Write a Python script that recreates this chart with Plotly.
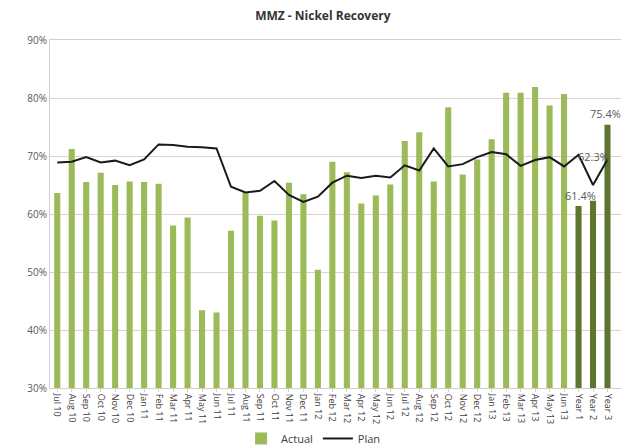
import plotly.graph_objects as go

categories = ["Jul 10","Aug 10","Sep 10","Oct 10","Nov 10","Dec 10","Jan 11","Feb 11","Mar 11","Apr 11",
              "May 11","Jun 11","Jul 11","Aug 11","Sep 11","Oct 11","Nov 11","Dec 11","Jan 12","Feb 12",
              "Mar 12","Apr 12","May 12","Jun 12","Jul 12","Aug 12","Sep 12","Oct 12","Nov 12","Dec 12",
              "Jan 13","Feb 13","Mar 13","Apr 13","May 13","Jun 13","Year 1","Year 2","Year 3"]
actual = [63.6, 71.2, 65.5, 67.1, 65.0, 65.6, 65.5, 65.2, 58.0, 59.4,
          43.4, 43.0, 57.1, 63.7, 59.7, 58.9, 65.4, 63.4, 50.4, 69.0,
          67.2, 61.8, 63.2, 65.1, 72.6, 74.1, 65.6, 78.4, 66.8, 69.4,
          72.9, 80.9, 80.9, 81.9, 78.7, 80.7, 61.4, 62.3, 75.4]
plan = [68.9, 69.0, 69.8, 68.9, 69.2, 68.4, 69.4, 72.0, 71.9, 71.6,
        71.5, 71.3, 64.7, 63.7, 64.0, 65.7, 63.3, 62.1, 63.0, 65.4,
        66.6, 66.2, 66.6, 66.3, 68.4, 67.5, 71.3, 68.2, 68.6, 69.8,
        70.7, 70.3, 68.3, 69.3, 69.8, 68.2, 70.2, 65.0, 69.4]
yticks = [30, 40, 50, 60, 70, 80, 90]
ytick_labels = ["30%", "40%", "50%", "60%", "70%", "80%", "90%"]

light = "#9BBB59"
dark = "#5E7530"
bar_colors = [dark if c.startswith("Year") else light for c in categories]

fig = go.Figure()
fig.add_trace(go.Bar(x=categories, y=actual, name="Actual", marker_color=bar_colors,
                     marker_line_width=0))
fig.add_trace(go.Scatter(x=categories, y=plan, name="Plan", mode="lines",
                         line=dict(color="#1a1a1a", width=2)))

# data labels for Year bars
label_font = dict(family="Open Sans, Liberation Sans, sans-serif", size=11, color="#595959")
fig.add_annotation(x="Year 1", y=actual[36], text="61.4%", showarrow=False, yshift=10, xshift=2, font=label_font)
fig.add_annotation(x="Year 2", y=actual[37], text="62.3%", showarrow=False, yshift=44, font=label_font)
fig.add_annotation(x="Year 3", y=actual[38], text="75.4%", showarrow=False, yshift=11, xshift=-2, font=label_font)

fig.update_layout(
    width=621, height=438,
    margin=dict(l=42, r=6, t=32, b=58, autoexpand=False),
    paper_bgcolor="white", plot_bgcolor="white",
    title=dict(text="<b>MMZ - Nickel Recovery</b>", x=0.507, xanchor="center", y=0.982, yanchor="middle",
               font=dict(family="Open Sans, Liberation Sans, sans-serif", size=12, color="#333333")),
    bargap=0.58,
    showlegend=True,
    legend=dict(orientation="h", x=0.46, xanchor="center", y=-0.145, yanchor="middle",
                font=dict(family="Open Sans, Liberation Sans, sans-serif", size=11, color="#404040"),
                itemwidth=30, tracegroupgap=0),
    font=dict(family="Open Sans, Liberation Sans, sans-serif"),
)
fig.update_yaxes(range=[30, 90], tickvals=yticks, ticktext=ytick_labels, automargin=False,
                 showgrid=True, gridcolor="#DDD3CC", gridwidth=1,
                 tickfont=dict(size=10, color="#595959"),
                 showline=True, linecolor="#D0D0D0", zeroline=False, mirror=False)
fig.update_xaxes(tickangle=90, tickfont=dict(size=9, color="#404040"), automargin=False,
                 showline=True, linecolor="#D0D0D0", mirror=True,
                 ticks="outside", ticklen=3, tickcolor="#D0D0D0")

fig.write_html("out.html")
